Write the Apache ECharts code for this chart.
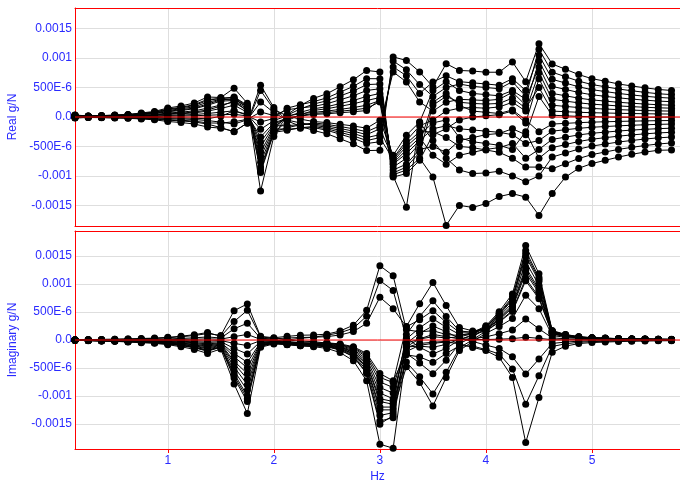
<!DOCTYPE html>
<html><head><meta charset="utf-8">
<script src="https://cdn.jsdelivr.net/npm/echarts@6/dist/echarts.min.js"></script>
<style>html,body{margin:0;padding:0;background:#fff;overflow:hidden}#c{width:680px;height:480px}</style>
</head><body><div id="c"></div>
<script>
// Frequency lines (Hz)
const freqHz = [0.125,0.25,0.375,0.5,0.625,0.75,0.875,1,1.125,1.25,1.375,1.5,1.625,1.75,1.875,2,2.125,2.25,2.375,2.5,2.625,2.75,2.875,3,3.125,3.25,3.375,3.5,3.625,3.75,3.875,4,4.125,4.25,4.375,4.5,4.625,4.75,4.875,5,5.125,5.25,5.375,5.5,5.625,5.75];

// Values in micro g/N (1e-6 g/N)
const real00 = [-12,-6,-8,-12,-16,-24,-34,-54,-66,-84,-120,-180,-250,-100,540,160,-66,-156,-228,-285,-370,-456,-570,-565,1020,960,765,510,905,790,780,760,760,935,600,1245,900,810,720,650,608,560,527,495,468,450];
const imag00 = [2,6,9,12,17,23,29,40,58,80,115,80,525,645,65,40,65,85,90,105,160,265,530,1330,1150,183,147,165,99,80,130,254,507,825,1690,1185,169,100,59,42,34,25,20,17,14,12];
const real01 = [20,10,14,20,26,40,56,90,110,140,200,270,280,140,-680,-200,-208,-189,-180,-225,-292,-360,-450,-420,950,800,550,350,500,560,520,500,480,600,350,1150,760,684,608,551,513,475,445,418,395,380];
const imag01 = [-3,-7,-12,-15,-22,-29,-36,-51,-73,-102,-145,-95,-480,-800,-80,-45,0,30,50,85,130,210,425,1065,885,32,-130,-250,-150,3,94,240,480,770,1600,1120,160,96,56,40,32,24,19,16,13,11];
const real02 = [-6,-3,-4,-6,-8,-12,-17,-27,-33,-42,-60,-87,-120,-48,255,75,-52,-100,-140,-175,-228,-280,-350,-300,850,700,400,595,700,600,580,560,540,650,450,1050,640,576,512,464,432,400,374,352,333,320];
const imag02 = [1,3,4,6,8,11,14,19,28,39,55,35,200,300,30,20,35,45,50,60,90,150,300,765,560,235,364,525,315,140,142,225,450,720,1500,1050,150,90,52,37,30,22,18,15,12,10];
const real03 = [28,14,20,28,36,56,78,126,154,196,280,320,330,184,-850,-250,-182,-133,-100,-125,-162,-200,-250,-150,765,595,255,100,250,300,290,280,300,420,200,950,520,468,416,377,351,325,304,286,270,260];
const imag03 = [-4,-9,-14,-18,-27,-36,-45,-63,-90,-126,-180,-120,-600,-1000,-100,-55,-60,-60,-55,-50,-70,-120,-240,-600,-730,-240,-411,-605,-363,-67,56,210,420,672,1400,980,140,84,49,35,28,21,17,14,11,10];
const real04 = [-17,-8,-12,-17,-22,-34,-48,-76,-94,-119,-170,-190,-244,-104,450,130,16,-37,-76,-95,-124,-152,-190,-55,-650,-310,-85,450,600,450,400,380,360,450,300,850,400,360,320,290,270,250,234,220,208,200];
const imag04 = [3,7,11,14,20,27,34,47,68,95,135,65,330,530,55,30,0,-20,-30,-55,-80,-135,-270,-670,-760,242,650,1030,615,224,163,195,390,624,1300,910,130,78,45,32,26,20,16,13,10,9];
const real05 = [15,8,10,15,20,30,42,68,82,105,150,203,255,105,-510,-150,-147,-129,-120,-150,-195,-240,-300,-200,-700,-400,-150,-50,100,150,160,150,170,250,100,750,300,270,240,218,203,188,176,165,156,150];
const imag05 = [-2,-6,-9,-11,-17,-22,-28,-39,-55,-77,-110,-70,-380,-600,-60,-35,-45,-55,-55,-60,-90,-150,-300,-750,-850,-57,17,60,36,57,112,232,465,744,1550,1085,155,93,54,39,31,23,19,15,12,11];
const real06 = [34,17,24,34,44,68,95,153,187,238,340,330,490,233,-1255,-330,40,195,316,395,513,632,790,765,-1020,-960,-735,-300,-200,-50,0,20,40,100,-100,650,200,180,160,145,135,125,117,110,104,100];
const imag06 = [-5,-12,-19,-24,-36,-48,-60,-84,-120,-168,-240,-160,-785,-1315,-130,-70,-80,-80,-75,-70,-100,-170,-340,-850,-950,-124,-110,-130,-78,13,75,180,360,576,1200,840,120,72,42,30,24,18,14,12,10,8];
const real07 = [3,2,2,3,4,6,8,14,17,21,30,38,45,19,-85,-25,150,209,260,325,422,520,650,650,-950,-850,-600,200,350,250,230,220,230,320,150,500,100,90,80,73,68,63,59,55,52,50];
const imag07 = [0,-1,-2,-2,-3,-4,-5,-7,-10,-14,-20,-10,-60,-100,-10,-10,-30,-50,-60,-75,-115,-190,-380,-950,-1050,19,219,380,228,101,104,165,330,528,1100,770,110,66,38,27,22,16,13,11,9,8];
const real08 = [25,12,18,25,32,50,70,112,138,175,250,300,300,165,-770,-225,30,137,220,275,358,440,550,560,-900,-800,-550,-500,-600,-400,-350,-300,-280,-200,-300,350,30,20,10,5,0,-3,-5,-5,-3,0];
const imag08 = [-3,-8,-13,-16,-24,-32,-40,-56,-80,-112,-160,-110,-550,-900,-90,-50,-65,-80,-80,-85,-125,-210,-420,-1050,-1100,-395,-658,-965,-579,-142,6,159,318,508,1060,740,106,64,37,26,21,16,13,11,8,7];
const real09 = [-10,-5,-7,-10,-13,-20,-28,-45,-55,-70,-100,-105,-80,-40,85,25,124,153,180,225,292,360,450,480,-850,-700,-450,250,400,200,100,80,60,120,-50,-250,-120,-108,-96,-87,-81,-75,-70,-66,-62,-60];
const imag09 = [0,1,2,2,3,4,5,7,10,14,20,15,60,100,10,5,-30,-50,-65,-90,-130,-220,-440,-1100,-1150,100,422,700,420,163,136,187,375,600,1250,875,125,75,44,31,25,19,15,12,10,9];
const real10 = [12,6,8,12,16,24,34,54,66,84,120,184,270,106,-600,-175,4,80,140,175,228,280,350,400,-800,-620,-400,-200,-150,-200,-220,-240,-260,-300,-450,-400,-240,-216,-192,-174,-162,-150,-140,-132,-125,-120];
const imag10 = [-3,-6,-10,-13,-19,-25,-31,-44,-63,-88,-125,-85,-420,-700,-70,-40,-65,-80,-85,-95,-145,-240,-480,-1200,-1200,-132,-62,-40,-24,4,23,56,112,180,375,200,38,22,13,9,7,6,4,4,3,3];
const real11 = [30,15,21,30,39,60,84,135,165,210,300,310,340,200,-940,-275,-62,37,112,140,182,224,280,330,-780,-560,-350,-650,-800,-650,-600,-550,-520,-450,-700,-550,-380,-342,-304,-276,-257,-238,-222,-209,-198,-190];
const imag11 = [-4,-10,-16,-20,-30,-40,-50,-70,-100,-140,-200,-130,-680,-1100,-110,-60,-80,-95,-95,-100,-150,-250,-500,-1250,-1250,-479,-760,-1180,-670,-188,-27,120,240,384,800,560,80,48,28,20,16,12,10,8,6,6];
const real12 = [6,3,4,6,8,12,17,27,33,42,60,82,105,43,-210,-60,20,54,80,100,130,160,200,280,-750,-500,-300,-100,-50,-350,-420,-450,-480,-550,-250,-700,-520,-468,-416,-377,-351,-325,-304,-286,-270,-260];
const imag12 = [-1,-2,-4,-5,-7,-9,-11,-16,-23,-32,-45,-30,-150,-250,-25,-15,-50,-75,-85,-110,-160,-270,-540,-1350,-1300,-60,122,250,150,27,-25,-92,-150,-300,-610,-340,-61,-37,-21,-15,-12,-9,-7,-6,-5,-4];
const real13 = [10,5,7,10,13,20,28,45,55,70,100,145,200,80,-425,-125,-22,25,60,75,98,120,150,255,-1000,-1530,-90,-400,-700,-900,-960,-950,-920,-1000,-1100,-1000,-680,-612,-544,-493,-459,-425,-398,-374,-354,-340];
const imag13 = [-2,-5,-7,-9,-14,-18,-23,-32,-45,-63,-90,-60,-300,-500,-50,-30,-65,-85,-95,-115,-175,-290,-580,-1450,-1390,-265,-303,-400,-240,-107,-108,-172,-250,-520,-1150,-640,-115,-69,-40,-29,-23,-17,-14,-11,-9,-8];
const real14 = [22,11,15,22,29,44,62,99,121,154,220,290,310,171,-900,-260,-226,-184,-160,-200,-260,-320,-400,-350,-720,-450,-250,-250,-350,-500,-520,-560,-600,-700,-850,-850,-880,-792,-704,-638,-594,-550,-515,-484,-458,-440];
const imag14 = [-4,-10,-15,-19,-29,-38,-48,-67,-95,-133,-190,-125,-640,-1050,-105,-55,-85,-105,-110,-120,-180,-300,-600,-1505,-1350,-120,20,100,60,20,10,8,15,24,50,30,5,3,2,1,1,1,0,0,0,0];
const real15 = [-3,-2,-2,-3,-4,-6,-8,-14,-17,-21,-30,12,105,31,-340,-100,-20,16,44,55,72,88,110,300,-980,-900,-700,-1020,-1840,-1500,-1535,-1470,-1350,-1300,-1360,-1670,-1300,-1020,-870,-790,-735,-680,-633,-595,-565,-560];
const imag15 = [-1,-4,-6,-7,-11,-14,-18,-25,-35,-49,-70,-50,-240,-400,-40,-25,-75,-105,-120,-150,-225,-370,-730,-1865,-1935,-205,-95,-60,-36,-66,-132,-190,-310,-670,-1835,-1030,-220,-110,-64,-46,-37,-28,-22,-18,-15,-13];

const realSeries = [real00,real01,real02,real03,real04,real05,real06,real07,real08,real09,real10,real11,real12,real13,real14,real15];
const imagSeries = [imag00,imag01,imag02,imag03,imag04,imag05,imag06,imag07,imag08,imag09,imag10,imag11,imag12,imag13,imag14,imag15];

// Zero reference value and tick labels (value in micro g/N -> text)
const zeroLevel = 0;
const yTickValues = [-1500,-1000,-500,0,500,1000,1500];
const yTickTexts  = ['-0.0015','-0.001','-500E-6','0.0','500E-6','0.001','0.0015'];
const xTickTexts = ['1','2','3','4','5'];

realSeries.concat(imagSeries).forEach(function(a, i){ if (a.length !== freqHz.length) console.error('length mismatch', i, a.length); });

const BLUE = '#2a2aff';
const RED = '#ff0000';
const GRIDC = '#dedede';
const FONT = 'Liberation Sans, Arial, sans-serif';
const X_MIN = 0.125, X_MAX = 5.83;

function yLabel(v){ const i = yTickValues.indexOf(Math.round(v)); return i >= 0 ? yTickTexts[i] : ''; }
function xLabel(v){ const s = String(Math.round(v)); return xTickTexts.indexOf(s) >= 0 && Math.abs(v - Math.round(v)) < 1e-9 ? s : ''; }

function makeSeries(list, xIdx, yIdx){
  const out = list.map(function(arr){
    return {
      type: 'line', xAxisIndex: xIdx, yAxisIndex: yIdx,
      data: freqHz.map(function(f, k){ return [f, arr[k]]; }),
      symbol: 'circle', symbolSize: 7, showSymbol: true,
      lineStyle: { color: '#000', width: 1 },
      itemStyle: { color: '#000', borderWidth: 0 },
      silent: true, animation: false, z: 2
    };
  });
  // red zero reference line drawn above the data and the grid lines
  out.push({
    type: 'line', xAxisIndex: xIdx, yAxisIndex: yIdx,
    data: [[X_MIN, zeroLevel], [X_MAX, zeroLevel]],
    symbol: 'none', lineStyle: { color: RED, width: 1 },
    silent: true, animation: false, z: 10
  });
  return out;
}

// bottom x axis of a plot (carries grid lines, optional labels)
function xAxisBottom(gi, showLabels){
  return {
    type: 'value', gridIndex: gi, position: 'bottom', min: X_MIN, max: X_MAX, splitNumber: 5,
    axisLine: { show: true, onZero: false, lineStyle: { color: RED, width: 1 } },
    axisTick: { show: showLabels, length: 4, lineStyle: { color: RED } },
    axisLabel: { show: showLabels, color: BLUE, fontSize: 12, fontFamily: FONT, margin: 6,
      showMinLabel: false, showMaxLabel: false, formatter: xLabel },
    splitLine: { show: true, showMinLine: false, showMaxLine: false, lineStyle: { color: GRIDC, width: 1 } },
    name: showLabels ? 'Hz' : '', nameLocation: 'middle', nameGap: 22,
    nameTextStyle: { color: BLUE, fontSize: 12, fontFamily: FONT }, z: 1
  };
}
// top frame line of a plot
function xAxisTop(gi){
  return {
    type: 'value', gridIndex: gi, position: 'top', min: X_MIN, max: X_MAX,
    axisLine: { show: true, onZero: false, lineStyle: { color: RED, width: 1 } },
    axisTick: { show: false }, axisLabel: { show: false }, splitLine: { show: false }, z: 1
  };
}

function yAxisCfg(gi, lim, name){
  return {
    type: 'value', gridIndex: gi, min: -lim, max: lim, splitNumber: 7,
    axisLine: { show: true, onZero: false, lineStyle: { color: RED, width: 1 } }, axisTick: { show: false },
    axisLabel: { color: BLUE, fontSize: 12, fontFamily: FONT, margin: 3,
      showMinLabel: false, showMaxLabel: false, formatter: yLabel },
    splitLine: { show: true, showMinLine: false, showMaxLine: false, lineStyle: { color: GRIDC, width: 1 } },
    name: name, nameLocation: 'middle', nameGap: 50,
    nameTextStyle: { color: BLUE, fontSize: 12, fontFamily: FONT }, z: 1
  };
}

const chart = echarts.init(document.getElementById('c'), null, { renderer: 'canvas' });
chart.setOption({
  animation: false,
  backgroundColor: '#ffffff',
  grid: [
    { left: 75, top: 8, right: 0, height: 218, show: false, containLabel: false, outerBoundsMode: 'none' },
    { left: 75, top: 231, right: 0, height: 218, show: false, containLabel: false, outerBoundsMode: 'none' }
  ],
  xAxis: [ xAxisBottom(0, false), xAxisTop(0), xAxisBottom(1, true), xAxisTop(1) ],
  yAxis: [ yAxisCfg(0, 1850, 'Real g/N'), yAxisCfg(1, 1950, 'Imaginary g/N') ],
  series: makeSeries(realSeries, 0, 0).concat(makeSeries(imagSeries, 2, 1))
});
</script></body></html>
